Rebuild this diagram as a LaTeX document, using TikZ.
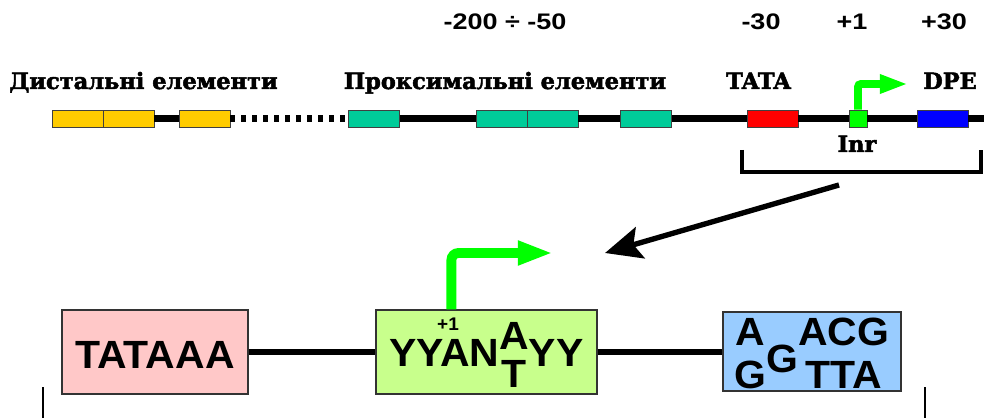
\documentclass[tikz,border=0pt]{standalone}
\usepackage{fontspec}
\usetikzlibrary{arrows.meta,positioning}
\setmainfont{DejaVu Serif}[BoldFeatures={FakeBold=2.2}]
\newfontfamily\seqfont{Liberation Sans}[FakeStretch=1.04]
\newfontfamily\posfont{Liberation Sans}[FakeStretch=1.2]

\definecolor{dYellow}{HTML}{FFCC00}
\definecolor{pTeal}{HTML}{00CC99}
\definecolor{tRed}{HTML}{FF0000}
\definecolor{iGreen}{HTML}{00FF00}
\definecolor{dBlue}{HTML}{0000FF}
\definecolor{boxPink}{HTML}{FFC8C8}
\definecolor{boxLime}{HTML}{C8FF8C}
\definecolor{boxSky}{HTML}{99CCFF}
\providecommand{\updown}[4]{%
  \ooalign{\hfil\raisebox{#3}{#1}\hfil\cr\hfil\raisebox{-#4}{#2}\hfil\cr}%
}

\begin{document}
\begin{tikzpicture}[x=0.025cm, y=-0.025cm,
  dna/.style={black, line width=4.3pt},
  elem/.style={draw=black!75, line width=0.6pt, inner sep=0pt,
    minimum width=1.275cm, minimum height=0.425cm},
  lab/.style={font=\fontsize{16}{18}\selectfont\bfseries, anchor=base},
  poslab/.style={font=\posfont\fontsize{16}{18}\selectfont\bfseries, anchor=base},
  seqbox/.style={draw=black!80, line width=0.8pt, inner sep=0pt,
    font=\seqfont\fontsize{28}{30}\selectfont\bfseries, minimum height=2.1cm}]

  \useasboundingbox (0,0) rectangle (984,418);

  % --------------------------------------------------------------------------
  % Top: promoter elements on the DNA strand
  % --------------------------------------------------------------------------
  \node[elem, fill=dYellow] (ds1) at ( 77.5,118.5) {};
  \node[elem, fill=dYellow] (ds2) at (128.5,118.5) {};
  \node[elem, fill=dYellow] (ds3) at (204.5,118.5) {};
  \node[elem, fill=pTeal]   (px1) at (374.0,118.5) {};
  \node[elem, fill=pTeal]   (px2) at (501.5,118.5) {};
  \node[elem, fill=pTeal]   (px3) at (552.5,118.5) {};
  \node[elem, fill=pTeal]   (px4) at (646.0,118.5) {};
  \node[elem, fill=tRed]    (tata) at (772.5,118.5) {};
  \node[elem, fill=iGreen, minimum width=0.45cm] (inr) at (858.0,118.5) {};
  \node[elem, fill=dBlue]   (dpe) at (942.5,118.5) {};
  \coordinate (dnaend) at (984,118.5);

  \draw[dna] (ds2.east) -- (ds3.west);
  \draw[dna, dash pattern=on 3.6pt off 4.2pt] (ds3.east) -- (px1.west);
  \draw[dna] (px1.east) -- (px2.west);
  \draw[dna] (px3.east) -- (px4.west);
  \draw[dna] (px4.east) -- (tata.west);
  \draw[dna] (tata.east) -- (inr.west);
  \draw[dna] (inr.east) -- (dpe.west);
  \draw[dna] (dpe.east) -- (dnaend);

  % start of transcription
  \coordinate (inrtip) at (908,84);
  \draw[iGreen, line width=5.5pt, rounded corners=2pt,
    -{Triangle[length=20pt, width=12.5pt]}] (inr.north) |- (inrtip);

  \node[lab] (distlab) at (143.5,89) {Дистальні елементи};
  \node[lab] (proxlab) at (505.0,89) {Проксимальні елементи};
  \node[lab] (tatalab) at (758.5,89) {TATA};
  \node[lab] (dpelab)  at (950.0,89) {DPE};
  \node[lab] (inrlab)  at (857.0,152) {Inr};

  \node[poslab] (proxpos) at (505,30) {-200 ÷ -50};
  \node[poslab] (tatapos) at (761,30) {-30};
  \node[poslab] (inrpos)  at (852,30) {+1};
  \node[poslab] (dpepos)  at (944,30) {+30};

  % core promoter bracket
  \coordinate (brl) at (742,150);
  \coordinate (brr) at (981,150);
  \draw[black, line width=2.8pt] (brl) -- ++(0,22) -| (brr);

  % --------------------------------------------------------------------------
  % Bottom: core promoter close-up
  % --------------------------------------------------------------------------
  \coordinate (zoomfrom) at (839,185);
  \coordinate (zoomto) at (605,253);
  \draw[black, line width=3.8pt,
    -{Stealth[length=26pt, width=23pt, inset=5pt]}] (zoomfrom) -- (zoomto);

  \node[seqbox, fill=boxPink, minimum width=4.65cm,
    text height=24pt, text depth=0pt] (tatabox) at (155,352) {TATAAA};
  \node[seqbox, fill=boxLime, minimum width=5.525cm,
    text height=36pt, text depth=15pt] (inrbox) at (486.5,352)
    {YYAN\updown{A}{T}{12pt}{15pt}YY};
  \node[seqbox, fill=boxSky, minimum width=4.45cm, minimum height=1.975cm,
    text height=41pt, text depth=11.8pt] (dpebox) at (812,351.5)
    {\updown{A}{G}{19pt}{11.4pt}G\updown{ACG}{TTA}{19pt}{11.4pt}\hspace{15pt}};

  \draw[dna] (tatabox.east) -- (inrbox.west);
  \draw[dna] (inrbox.east) -- (inrbox.east -| dpebox.west);

  \node[font=\seqfont\fontsize{13}{14}\selectfont\bfseries, inner sep=1pt]
    (plusone) at (448,324) {+1};

  \coordinate (tsstip) at (553,253);
  \draw[iGreen, line width=7pt, rounded corners=5pt,
    -{Triangle[length=25pt, width=16pt]}] (inrbox.north west) ++(76,0) |- (tsstip);

  \coordinate (legl) at (43,387);
  \coordinate (legr) at (925,387);
  \draw[black, line width=1.5pt] (legl) -- (43,418);
  \draw[black, line width=1.5pt] (legr) -- (925,418);

\end{tikzpicture}
\end{document}
